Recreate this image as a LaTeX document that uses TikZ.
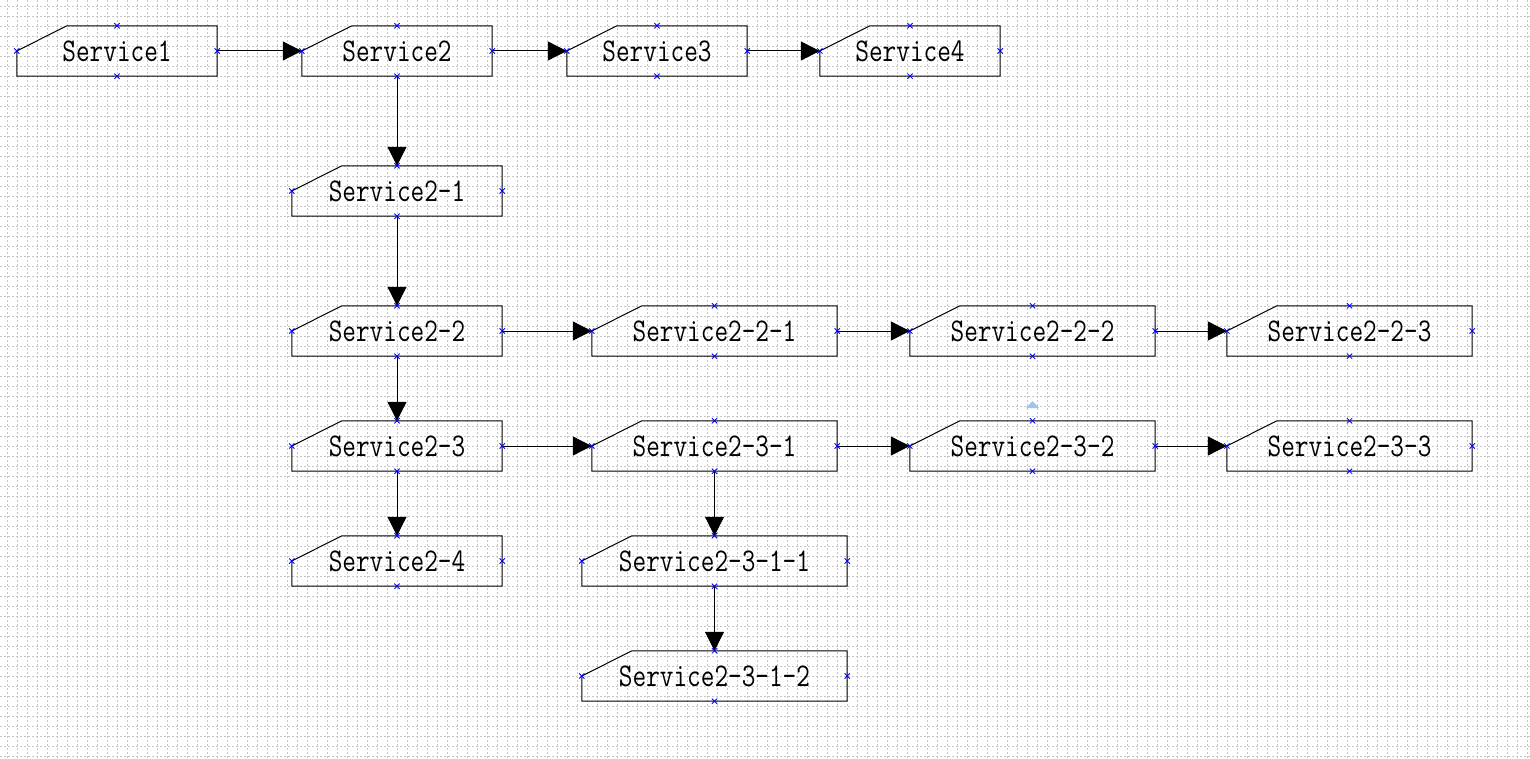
\documentclass[tikz,border=0pt]{standalone}
\usepackage{fontspec}
\usepackage{tikz}
\usetikzlibrary{arrows.meta,shapes.misc}

\newcommand{\svctext}[1]{\scalebox{1}[1.25]{#1}}
\definecolor{handleblue}{RGB}{160,196,240}

\tikzset{
  svc/.style={minimum width=#1, minimum height=50pt, inner sep=0pt,
    font=\fontsize{26.5}{28}\selectfont\ttfamily},
  svcline/.style={draw=black, line width=1pt},
  flow/.style={line width=1pt, -{Triangle[length=19pt,width=19pt]}},
  gridline/.style={gray!45, line width=0.7pt, dash pattern=on 2pt off 2pt},
  cpmark/.style={cross out, draw=blue, line width=0.8pt, minimum size=4.5pt, inner sep=0pt}
}

\begin{document}
\begin{tikzpicture}[x=1pt,y=-1pt]
    \useasboundingbox (0,0) rectangle (1530,759);
    \fill[white] (0,0) rectangle (1530,759);
    % background grid
    \foreach \x in {7,17,...,1527} \draw[gridline] (\x,0) -- (\x,759);
    \foreach \y in {6,16,...,756} \draw[gridline] (0,\y) -- (1530,\y);

    % services
    \node[svc=200pt] (s1) at (117,51) {\svctext{Service1}};
    \node[svc=190pt] (s2) at (397,51) {\svctext{Service2}};
    \node[svc=180pt] (s3) at (657,51) {\svctext{Service3}};
    \node[svc=180pt] (s4) at (910,51) {\svctext{Service4}};
    \node[svc=210pt] (s21) at (397,191) {\svctext{Service2-1}};
    \node[svc=210pt] (s22) at (397,331) {\svctext{Service2-2}};
    \node[svc=245pt] (s221) at (714.5,331) {\svctext{Service2-2-1}};
    \node[svc=245pt] (s222) at (1032.5,331) {\svctext{Service2-2-2}};
    \node[svc=245pt] (s223) at (1349.5,331) {\svctext{Service2-2-3}};
    \node[svc=210pt] (s23) at (397,446) {\svctext{Service2-3}};
    \node[svc=245pt] (s231) at (714.5,446) {\svctext{Service2-3-1}};
    \node[svc=245pt] (s232) at (1032.5,446) {\svctext{Service2-3-2}};
    \node[svc=245pt] (s233) at (1349.5,446) {\svctext{Service2-3-3}};
    \node[svc=210pt] (s24) at (397,561) {\svctext{Service2-4}};
    \node[svc=265pt] (s2311) at (714.5,561) {\svctext{Service2-3-1-1}};
    \node[svc=265pt] (s2312) at (714.5,676) {\svctext{Service2-3-1-2}};

    % outlines with cut corner
    \foreach \n in {s1,s2,s3,s4,s21,s22,s221,s222,s223,s23,s231,s232,s233,s24,s2311,s2312} {
      \draw[svcline] (\n.west) -- ([xshift=50pt]\n.north west) -- (\n.north east)
        -- (\n.south east) -- (\n.south west) -- cycle;
    }

    % links
    \draw[flow] (s1.east) -- (s2.west);
    \draw[flow] (s2.east) -- (s3.west);
    \draw[flow] (s3.east) -- (s4.west);
    \draw[flow] (s2.south) -- (s21.north);
    \draw[flow] (s21.south) -- (s22.north);
    \draw[flow] (s22.south) -- (s23.north);
    \draw[flow] (s23.south) -- (s24.north);
    \draw[flow] (s22.east) -- (s221.west);
    \draw[flow] (s221.east) -- (s222.west);
    \draw[flow] (s222.east) -- (s223.west);
    \draw[flow] (s23.east) -- (s231.west);
    \draw[flow] (s231.east) -- (s232.west);
    \draw[flow] (s232.east) -- (s233.west);
    \draw[flow] (s231.south) -- (s2311.north);
    \draw[flow] (s2311.south) -- (s2312.north);

    % connection points
    \foreach \n in {s1,s2,s3,s4,s21,s22,s221,s222,s223,s23,s231,s232,s233,s24,s2311,s2312}
      \foreach \a in {north,south,east,west}
        \node[cpmark] at (\n.\a) {};

    % selection handle
    \fill[handleblue] (1026,408) -- (1032.5,401) -- (1039,408) -- cycle;
\end{tikzpicture}
\end{document}
